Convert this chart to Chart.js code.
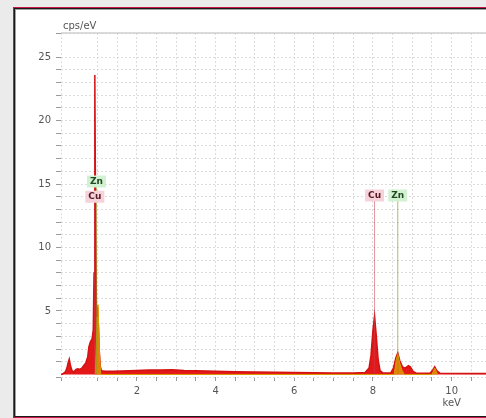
<!DOCTYPE html>
<html>
<head>
<meta charset="utf-8">
<script src="https://cdn.jsdelivr.net/npm/chart.js@4.4.1/dist/chart.umd.min.js"></script>
<style>
  html, body { margin: 0; padding: 0; background: #ebebeb; overflow: hidden; }
  #frame {
    position: absolute; left: 13px; top: 7px; width: 500px; height: 409px;
    background: #fff; border: 1px solid #c8184a;
    box-shadow: inset 1px 1px 0 #1a1a1a, inset -1px -1px 0 #1a1a1a, inset 2px 2px 0 #a0a0a0;
  }
  #wrap { position: absolute; left: 0; top: 0; width: 500px; height: 418px; }
</style>
</head>
<body>
<div id="frame"></div>
<div id="wrap"><canvas id="chart_eds"></canvas></div>
<script>
// spectrum (keV / cps/eV)
const energy = [0.07, 0.12, 0.18, 0.22, 0.25, 0.28, 0.31, 0.35, 0.40, 0.45, 0.50, 0.55, 0.60, 0.65,
  0.70, 0.75, 0.78, 0.82, 0.86, 0.89, 0.91, 0.93, 0.95, 0.97, 1.00, 1.02, 1.04, 1.07, 1.10,
  1.2, 1.4, 1.6, 1.8, 2.0, 2.3, 2.6, 2.9, 3.2, 3.5, 4.0, 4.5, 5.0, 5.5, 6.0, 6.5, 7.0, 7.5,
  7.80, 7.90, 7.95, 8.00, 8.04, 8.08, 8.13, 8.18, 8.25, 8.45, 8.52, 8.58, 8.63, 8.68, 8.75,
  8.82, 8.90, 8.95, 9.02, 9.10, 9.45, 9.52, 9.57, 9.62, 9.70, 11.0]
const counts = [0, 0.05, 0.2, 0.5, 0.9, 1.2, 0.7, 0.3, 0.2, 0.4, 0.45, 0.4, 0.5, 0.7,
  0.9, 1.4, 2.2, 2.6, 2.8, 3.5, 8.0, 23.6, 12.0, 5.5, 5.2, 4.0, 2.0, 0.6, 0.3,
  0.25, 0.25, 0.28, 0.3, 0.32, 0.35, 0.35, 0.38, 0.32, 0.3, 0.25, 0.22, 0.2, 0.18, 0.15, 0.13, 0.12, 0.12,
  0.15, 0.5, 1.5, 3.5, 4.6, 3.2, 1.2, 0.3, 0.12, 0.12, 0.5, 1.3, 1.7, 1.1, 0.6,
  0.5, 0.7, 0.6, 0.25, 0.1, 0.1, 0.35, 0.6, 0.3, 0.1, 0.08]

// Zn contribution
const znEnergy = [0.94, 0.97, 0.99, 1.01, 1.03, 1.05, 1.08, 8.54, 8.59, 8.63, 8.68, 8.74, 8.80, 9.50, 9.57, 9.64]
const znCounts = [0, 2.5, 4.5, 5.5, 3.5, 1.5, 0, 0, 1.1, 1.6, 0.9, 0.3, 0, 0, 0.5, 0]

// element markers
const markerNames = ['Cu', 'Zn', 'Cu', 'Zn']
const markerEnergy = [0.93, 0.97, 8.04, 8.63]
const markerHeight = [14.0, 15.2, 14.1, 14.1]

const colors = { Cu: ['rgba(205,60,80,0.55)', '#f6d2da', '#5a1820'], Zn: ['rgba(140,150,40,0.65)', '#d2f0d2', '#1f4a1f'] }

const spectrum = energy.map((e, i) => ({ x: e, y: counts[i] }))
const znData = znEnergy.map((e, i) => ({ x: e, y: znCounts[i] }))

const datasets = [
  {
    label: 'Spektrum', data: spectrum, fill: 'origin', order: 3,
    borderColor: '#d41212', backgroundColor: '#e41818', borderWidth: 1.5, pointRadius: 0, tension: 0
  },
  {
    label: 'Zn', data: znData, fill: 'origin', order: 2,
    borderColor: '#d99a00', backgroundColor: 'rgba(226,168,0,0.75)', borderWidth: 1, pointRadius: 0, tension: 0
  }
]
markerNames.forEach((n, i) => {
  datasets.push({
    label: n + ' line', order: 1, pointRadius: 0, borderWidth: 1, fill: false,
    borderColor: colors[n][0],
    data: [{ x: markerEnergy[i], y: 0 }, { x: markerEnergy[i], y: markerHeight[i] }]
  })
})

const edsLabels = {
  id: 'edsLabels',
  afterDraw(chart) {
    const c = chart.ctx, a = chart.chartArea
    const xs = chart.scales.x, ys = chart.scales.y
    c.save()
    c.strokeStyle = '#cfcfcf'; c.lineWidth = 1.5
    c.beginPath(); c.moveTo(a.left, a.top); c.lineTo(a.right, a.top); c.stroke()

    c.fillStyle = '#555'; c.font = '10px "DejaVu Sans"'
    c.textAlign = 'left'; c.textBaseline = 'alphabetic'
    c.fillText('cps/eV', 63, 29)

    c.font = 'bold 9px "DejaVu Sans"'
    c.textAlign = 'center'; c.textBaseline = 'middle'
    markerNames.forEach((n, i) => {
      const px = xs.getPixelForValue(markerEnergy[i])
      const py = ys.getPixelForValue(markerHeight[i])
      const w = c.measureText(n).width + 6
      c.fillStyle = colors[n][1]
      c.fillRect(px - w / 2, py - 6, w, 12)
      c.fillStyle = colors[n][2]
      c.fillText(n, px, py)
    })
    c.restore()
  }
}

const ctx = document.getElementById('chart_eds')
new Chart(ctx, {
  type: 'line',
  data: { datasets: datasets },
  plugins: [edsLabels],
  options: {
    responsive: true,
    maintainAspectRatio: false,
    animation: false,
    layout: { padding: { top: 33, right: 9, left: 0, bottom: 0 } },
    plugins: { legend: { display: false }, tooltip: { enabled: false } },
    scales: {
      x: {
        type: 'linear', min: 0.07, max: 11,
        afterFit: (s) => { s.height = 41 },
        border: { display: false, dash: [2, 2] },
        grid: { color: '#dcdcdc', tickColor: '#9a9a9a', tickLength: 4, tickBorderDash: [] },
        ticks: {
          stepSize: 0.5, autoSkip: false, maxRotation: 0, padding: 4,
          color: '#555', font: { family: 'DejaVu Sans', size: 10 },
          callback: function (value) {
            const v = Math.round(value * 100) / 100
            if (v === 10) return ['10', 'keV']
            if (v >= 2 && v % 2 === 0) return String(v)
            return ''
          }
        }
      },
      y: {
        min: -0.2, max: 26.9,
        afterFit: (s) => { s.width = 61 },
        border: { display: false, dash: [2, 2] },
        grid: { color: '#dcdcdc', tickColor: '#9a9a9a', tickLength: 5, tickBorderDash: [] },
        ticks: {
          stepSize: 1, autoSkip: false, padding: 5,
          color: '#555', font: { family: 'DejaVu Sans', size: 10 },
          callback: function (value) {
            const v = Math.round(value * 100) / 100
            return (v >= 0 && v % 5 === 0) ? String(v) : ''
          }
        }
      }
    }
  }
})
</script>
</body>
</html>
